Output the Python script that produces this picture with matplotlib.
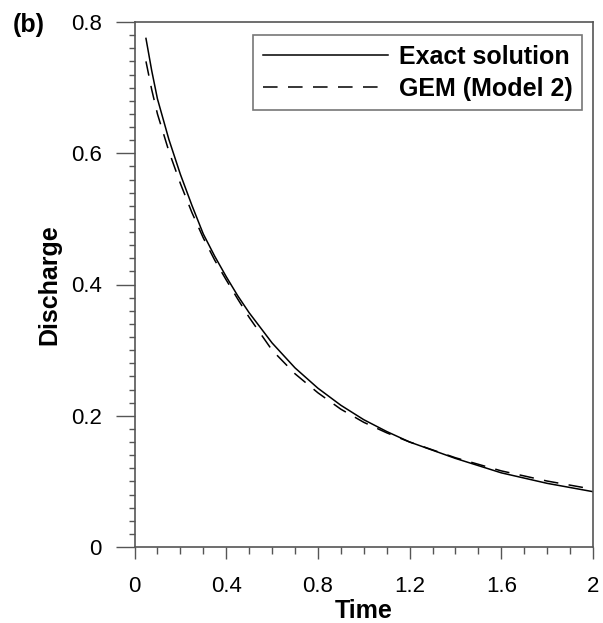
import matplotlib
matplotlib.use("Agg")
import matplotlib.pyplot as plt
from matplotlib.ticker import MultipleLocator

plt.rcParams['font.family'] = ['Liberation Sans', 'DejaVu Sans']
plt.rcParams['lines.scale_dashes'] = False

# Data
t_exact = [0.05, 0.075, 0.1, 0.15, 0.2, 0.25, 0.3, 0.35, 0.4, 0.45, 0.5, 0.6, 0.7, 0.8,
           0.9, 1.0, 1.1, 1.2, 1.4, 1.6, 1.8, 2.0]
q_exact = [0.775, 0.726, 0.683, 0.621, 0.568, 0.521, 0.477, 0.443, 0.412, 0.383, 0.357,
           0.311, 0.273, 0.242, 0.216, 0.194, 0.176, 0.160, 0.135, 0.113, 0.097, 0.0843]
t_gem = [0.05, 0.075, 0.1, 0.15, 0.2, 0.25, 0.3, 0.35, 0.4, 0.45, 0.5, 0.6, 0.7, 0.8,
         0.9, 1.0, 1.1, 1.2, 1.4, 1.6, 1.8, 2.0]
q_gem = [0.740, 0.697, 0.660, 0.603, 0.554, 0.510, 0.471, 0.437, 0.407, 0.378, 0.350,
         0.300, 0.264, 0.235, 0.210, 0.190, 0.174, 0.160, 0.136, 0.116, 0.1005, 0.088]

x_ticks = [0, 0.4, 0.8, 1.2, 1.6, 2]
x_ticklabels = ["0", "0.4", "0.8", "1.2", "1.6", "2"]
y_ticks = [0, 0.2, 0.4, 0.6, 0.8]
y_ticklabels = ["0", "0.2", "0.4", "0.6", "0.8"]

spine_c = '#555555'

fig = plt.figure(figsize=(6.03, 6.23), dpi=100)
ax = fig.add_axes([134.5/603, 1-547/623, (593-134.5)/603, (547-22)/623])

ax.plot(t_exact, q_exact, color='black', lw=1.1, ls='-', label='Exact solution')
ax.plot(t_gem, q_gem, color='black', lw=1.1, dashes=(10.5, 7.5), label='GEM (Model 2)')

ax.set_xlim(0, 2)
ax.set_ylim(0, 0.8)
ax.set_xticks(x_ticks)
ax.set_xticklabels(x_ticklabels)
ax.set_yticks(y_ticks)
ax.set_yticklabels(y_ticklabels)
ax.xaxis.set_minor_locator(MultipleLocator(0.1))
ax.yaxis.set_minor_locator(MultipleLocator(0.02))

for s in ax.spines.values():
    s.set_color(spine_c)
    s.set_linewidth(1.2)

ax.tick_params(axis='x', which='major', direction='out', length=8.6, width=1.0,
               color=spine_c, labelsize=16, pad=12)
ax.tick_params(axis='x', which='minor', direction='out', length=4.7, width=1.0, color=spine_c)
ax.tick_params(axis='y', which='major', direction='out', length=13.7, width=1.0,
               color=spine_c, labelsize=16, pad=10)
ax.tick_params(axis='y', which='minor', direction='out', length=4.3, width=1.0, color=spine_c)

ax.set_xlabel('Time', fontsize=18, fontweight='bold')
ax.xaxis.set_label_coords(0.5, -0.100)
ax.set_ylabel('Discharge', fontsize=18, fontweight='bold')
ax.yaxis.set_label_coords(-0.160, 0.5)

leg = ax.legend(loc='upper right', bbox_to_anchor=((582-134.5)/458.5, (547-35)/525),
                borderaxespad=0, fancybox=False, frameon=True,
                prop={'size': 18, 'weight': 'bold'}, handlelength=5.0,
                handletextpad=0.45, borderpad=0.38, labelspacing=0.33)
leg.get_frame().set_edgecolor(spine_c)
leg.get_frame().set_linewidth(1.2)

fig.text(13/603, 1-25/623, '(b)', fontsize=18, fontweight='bold', ha='left', va='center')

fig.savefig('out.png', dpi=100)
